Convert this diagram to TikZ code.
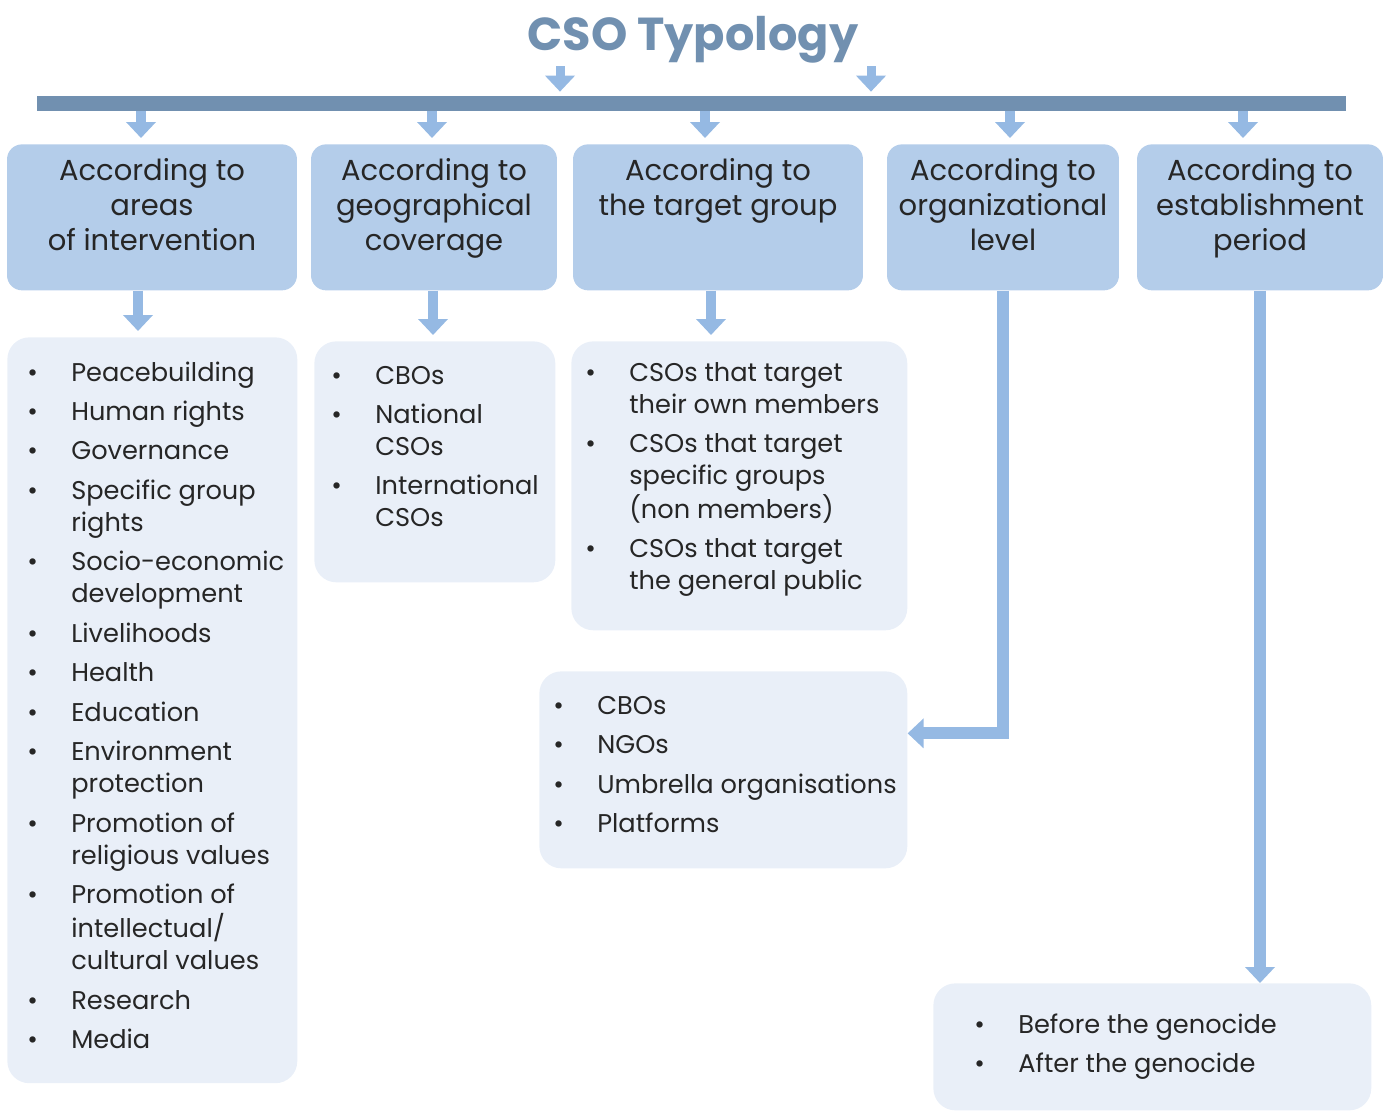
\documentclass[tikz,border=0pt]{standalone}
\usepackage{fontspec}
\setmainfont{Poppins}
\usetikzlibrary{arrows.meta}
\definecolor{barblue}{RGB}{113,144,176}
\definecolor{arrowblue}{RGB}{149,185,227}
\definecolor{hdrfill}{RGB}{180,205,234}
\definecolor{listfill}{RGB}{233,239,248}
\definecolor{txtgrey}{RGB}{38,38,38}
\newcommand{\headlines}[1]{\begin{tabular}[t]{@{}c@{}}#1\end{tabular}}
\newcommand{\listlines}[1]{\begin{tabular}[t]{@{}p{0.88cm}@{}l@{}}#1\end{tabular}}
\tikzset{
  hdr/.style={fill=hdrfill, rounded corners=0.3cm, inner sep=0pt, anchor=north,
    minimum height=2.92cm, text height=0.72cm, text depth=2.2cm,
    text=txtgrey, font=\fontsize{16.5}{0.7cm}\selectfont},
  listbox/.style={fill=listfill, rounded corners=0.44cm, inner sep=0pt, anchor=north west},
  listtext/.style={anchor=base west, inner sep=0pt, text=txtgrey,
    font=\fontsize{14.6}{0.64cm}\selectfont},
  blockarrow/.style={draw=arrowblue, line width=0.21cm,
    -{Triangle[width=0.58cm,length=0.32cm]}},
}
\begin{document}
\begin{tikzpicture}[x=0.02cm,y=-0.02cm]
\useasboundingbox (0,0) rectangle (1392,1113);
% title and bar
\node[anchor=base, text=barblue, font=\fontsize{26.3}{32}\selectfont\bfseries] (title) at (693,50) {CSO Typology};
\node[fill=barblue, inner sep=0pt, minimum width=26.18cm, minimum height=0.3cm] (bar) at (691.5,103.5) {};
\coordinate (ta) at (560,66);
\coordinate (tb) at (871,66);
\draw[blockarrow, line width=0.18cm, shorten >=0.08cm] (ta) -- (ta |- bar.north);
\draw[blockarrow, line width=0.18cm, shorten >=0.08cm] (tb) -- (tb |- bar.north);
% headers
\node[hdr, minimum width=5.8cm] (h1) at (152,144) {\headlines{According to\\areas\\of intervention}};
\node[hdr, minimum width=4.92cm] (h2) at (434,144) {\headlines{According to\\geographical\\coverage}};
\node[hdr, minimum width=5.8cm] (h3) at (718,144) {\headlines{According to\\the target group}};
\node[hdr, minimum width=4.64cm] (h4) at (1003,144) {\headlines{According to\\organizational\\level}};
\node[hdr, minimum width=4.92cm] (h5) at (1260,144) {\headlines{According to\\establishment\\period}};
\foreach \ax/\hn in {141/h1,432/h2,705/h3,1010/h4,1243/h5}
  \draw[blockarrow, shorten >=0.12cm] (\ax,0 |- bar.south) -- (\ax,0 |- \hn.north);
% list boxes
\node[listbox, minimum width=5.8cm, minimum height=14.92cm] (l1) at (7,337) {};
\node[listbox, minimum width=4.82cm, minimum height=4.82cm] (l2) at (314,341) {};
\node[listbox, minimum width=6.72cm, minimum height=5.78cm] (l3) at (571,341) {};
\node[listbox, minimum width=7.36cm, minimum height=3.94cm] (l4) at (539,671) {};
\node[listbox, minimum width=8.76cm, minimum height=2.54cm] (l5) at (933,983) {};
\node[listtext] (l1t) at (27,381) {\listlines{%
\textbullet & Peacebuilding\\[0.15cm]
\textbullet & Human rights\\[0.15cm]
\textbullet & Governance\\[0.15cm]
\textbullet & Specific group\\ & rights\\[0.15cm]
\textbullet & Socio-economic\\ & development\\[0.15cm]
\textbullet & Livelihoods\\[0.15cm]
\textbullet & Health\\[0.15cm]
\textbullet & Education\\[0.15cm]
\textbullet & Environment\\ & protection\\[0.15cm]
\textbullet & Promotion of\\ & religious values\\[0.15cm]
\textbullet & Promotion of\\ & intellectual/\\ & cultural values\\[0.15cm]
\textbullet & Research\\[0.15cm]
\textbullet & Media}};
\node[listtext] (l2t) at (331,384) {\listlines{%
\textbullet & CBOs\\[0.15cm]
\textbullet & National\\ & CSOs\\[0.15cm]
\textbullet & International\\ & CSOs}};
\node[listtext] (l3t) at (585,381) {\listlines{%
\textbullet & CSOs that target\\ & their own members\\[0.15cm]
\textbullet & CSOs that target\\ & specific groups\\ & (non members)\\[0.15cm]
\textbullet & CSOs that target\\ & the general public}};
\node[listtext] (l4t) at (553,714) {\listlines{%
\textbullet & CBOs\\[0.15cm]
\textbullet & NGOs\\[0.15cm]
\textbullet & Umbrella organisations\\[0.15cm]
\textbullet & Platforms}};
\node[listtext] (l5t) at (974,1033) {\listlines{%
\textbullet & Before the genocide\\[0.15cm]
\textbullet & After the genocide}};
% connectors
\foreach \ax/\hn/\ln in {138/h1/l1,433/h2/l2,711/h3/l3}
  \draw[blockarrow, shorten >=0.12cm] (\ax,0 |- \hn.south) -- (\ax,0 |- \ln.north);
\draw[blockarrow, line width=0.24cm, line join=miter] (h4.south) |- ([yshift=0.73cm]l4.east);
\draw[blockarrow, line width=0.23cm] (h5.south) -- (h5.south |- l5.north);
\end{tikzpicture}
\end{document}
